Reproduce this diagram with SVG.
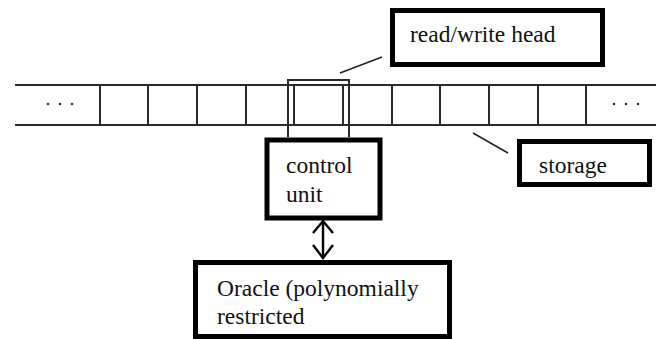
<svg xmlns="http://www.w3.org/2000/svg" width="656" height="339" viewBox="0 0 656 339">
  <style>
    .tape { stroke: #2a2a2a; stroke-width: 2; fill: none; }
    .box { fill: #ffffff; stroke: #000000; stroke-width: 5; }
    .label { font-family: "Liberation Serif", "Times New Roman", serif; font-size: 23.5px; fill: #111111; }
    .lead { stroke: #222222; stroke-width: 1.6; fill: none; }
    .dot { fill: #333333; }
  </style>
  <rect width="656" height="339" fill="#ffffff"/>

  <!-- tape with its cells -->
  <g id="tape">
    <line class="tape" x1="15" y1="85" x2="656" y2="85"/>
    <line class="tape" x1="15" y1="125" x2="656" y2="125"/>
    <path class="tape" d="M100 85V125 M148 85V125 M197 85V125 M246 85V125 M294 85V125 M343 85V125 M392 85V125 M440 85V125 M489 85V125 M538 85V125 M586 85V125"/>
    <circle class="dot" cx="48" cy="104" r="1.3"/>
    <circle class="dot" cx="60" cy="104" r="1.3"/>
    <circle class="dot" cx="72" cy="104" r="1.3"/>
    <circle class="dot" cx="614" cy="104" r="1.3"/>
    <circle class="dot" cx="626" cy="104" r="1.3"/>
    <circle class="dot" cx="638" cy="104" r="1.3"/>
  </g>

  <!-- head frame around the current cell -->
  <g id="head">
    <path class="tape" d="M288 137V80H349V137"/>
  </g>

  <g id="connectors">
    <line class="lead" x1="340" y1="73" x2="382" y2="57"/>
    <line class="lead" x1="473" y1="133" x2="508" y2="153"/>
    <g stroke="#000" stroke-width="2.4" fill="none">
      <line x1="323" y1="221" x2="323" y2="258"/>
      <polyline points="313,233 323,221 333,233"/>
      <polyline points="313,245 323,258 333,245"/>
    </g>
  </g>

  <g id="rw-head">
    <rect class="box" x="392.5" y="10.5" width="210" height="54"/>
    <text class="label" x="410" y="42">read/write head</text>
  </g>

  <g id="control-unit">
    <rect class="box" x="267" y="140" width="113" height="78" stroke-width="6"/>
    <text class="label" x="286" y="173">control</text>
    <text class="label" x="286" y="202">unit</text>
  </g>

  <g id="storage">
    <rect class="box" x="519.5" y="141.5" width="130" height="43"/>
    <text class="label" x="539" y="173">storage</text>
  </g>

  <g id="oracle">
    <rect class="box" x="195.5" y="262.5" width="254" height="74"/>
    <text class="label" x="217" y="296">Oracle (polynomially</text>
    <text class="label" x="217" y="324">restricted</text>
  </g>
</svg>
